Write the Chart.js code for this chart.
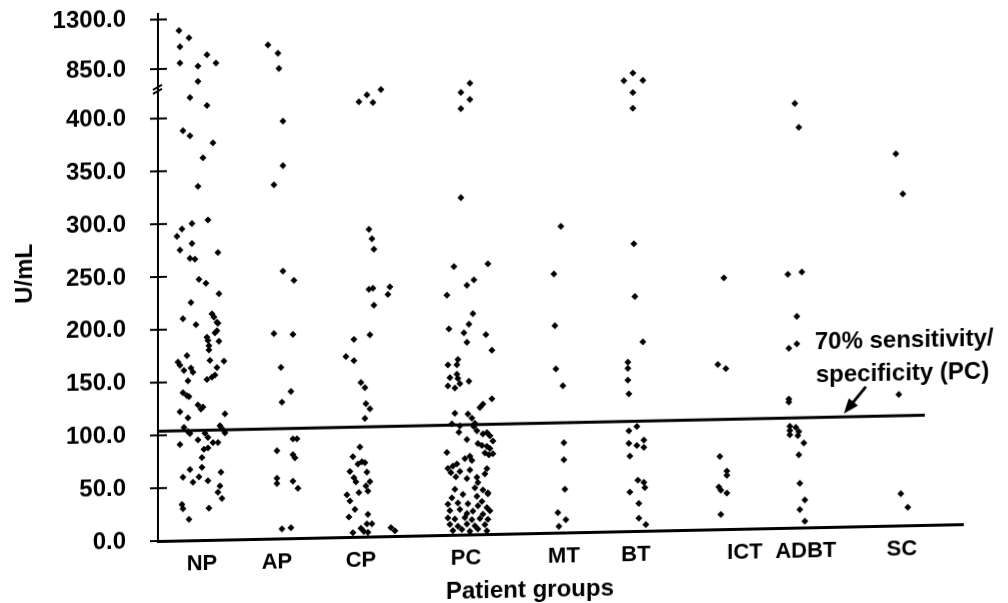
<!DOCTYPE html>
<html><head><meta charset="utf-8">
<script src="https://cdn.jsdelivr.net/npm/chart.js@4/dist/chart.umd.min.js"></script>
<style>
html,body{margin:0;padding:0;background:#fff;}
#wrap{width:1008px;height:603px;position:relative;overflow:hidden;background:#fff;}
canvas{display:block;transform:skewY(-1.2deg);transform-origin:158px 541px;}
</style>
</head><body><div id="wrap"><canvas id="c" width="1008" height="640"></canvas></div>
<script>
const groups = ['NP','AP','CP','PC','MT','BT','ICT','ADBT','SC'];
const groupPos = [44,119,203,308,406,478,587,648,744];
const yTickValues = [0,50,100,150,200,250,300,350,400,850,1300];
const cutoff = 104;
const breakValue = 428;
// each point: [U/mL, horizontal jitter from the group position]
const NP = [[1196,-23],[1127,-13],[1049,-22],[970,5],[901,-22],[869,-4],[893,14],[731,-4],[584,-12],[510,5],[388,-19],[383,-12],[376,11],[362,1],[335,-4],[303,6],[300,-10],[295,-20],[288,-25],[281,-10],[275,-22],[272,16],[267,-12],[266,-7],[247,-3],[243,4],[233,17],[225,-11],[210,-19],[204,-6],[214,10],[211,12],[206,15],[205,16],[198,15],[196,13],[192,5],[189,6],[188,17],[184,7],[180,7],[175,-15],[170,8],[169,-24],[166,-22],[169,22],[163,-11],[161,-18],[159,-9],[163,15],[156,13],[154,10],[152,5],[151,-14],[140,-19],[137,-15],[136,-13],[128,-4],[126,1],[124,-1],[122,-22],[116,-14],[119,23],[107,-18],[108,18],[105,20],[103,-14],[101,-12],[101,3],[101,23],[95,-4],[97,6],[92,11],[92,16],[91,-22],[86,2],[87,6],[78,0],[69,0],[67,-12],[60,-19],[55,-9],[60,-3],[56,6],[64,19],[51,18],[45,16],[39,20],[34,-20],[30,-19],[30,7],[20,-13]];
const AP = [[1048,-9],[971,1],[832,2],[395,6],[353,6],[335,-3],[253,6],[244,17],[194,-3],[193,16],[162,4],[139,14],[129,5],[94,16],[94,20],[83,0],[79,16],[76,18],[57,0],[52,0],[54,16],[47,21],[9,5],[10,14]];
const CP = [[515,-2],[575,6],[505,12],[620,20],[291,8],[282,11],[272,13],[234,8],[235,12],[236,29],[229,27],[219,13],[187,-7],[191,9],[171,-15],[167,-7],[146,0],[141,4],[126,5],[121,9],[112,4],[85,-1],[76,-8],[69,-3],[71,1],[70,4],[61,6],[62,-11],[56,-7],[52,-5],[52,9],[48,5],[42,-2],[40,-14],[43,7],[34,-11],[26,-6],[19,-12],[21,7],[12,6],[12,11],[4,-8],[8,0],[5,3],[4,7],[8,30],[5,34]];
const PC = [[662,4],[580,-5],[515,4],[433,-5],[319,-5],[254,-12],[256,22],[241,8],[236,1],[227,-19],[209,7],[195,-17],[199,3],[191,-2],[189,20],[182,1],[174,26],[166,-8],[161,-18],[161,-9],[149,-16],[152,-9],[148,-8],[145,3],[141,-18],[139,-11],[143,-6],[128,26],[123,17],[120,14],[115,-11],[114,2],[110,6],[105,-14],[103,-6],[105,9],[102,8],[97,-7],[98,11],[95,17],[96,21],[93,24],[90,1],[86,12],[84,16],[83,21],[81,24],[88,27],[77,19],[75,23],[76,27],[78,-19],[72,-1],[74,4],[70,6],[63,-18],[65,-13],[67,-9],[60,-6],[61,4],[62,21],[59,-15],[55,-10],[54,11],[49,12],[53,1],[57,19],[43,-11],[44,9],[42,17],[39,22],[35,-14],[38,-3],[36,11],[31,16],[38,22],[29,-18],[30,-8],[29,2],[27,12],[25,21],[23,-16],[24,-6],[20,1],[22,7],[19,17],[22,24],[16,-18],[15,-11],[16,-1],[14,6],[15,14],[14,22],[10,-16],[8,-8],[10,1],[8,9],[9,19],[4,-13],[5,-4],[3,4],[5,12],[3,21]];
const MT = [[290,-3],[245,-10],[196,-9],[155,-8],[139,-1],[85,0],[69,0],[41,1],[19,-6],[12,2],[6,-5]];
const BT = [[723,-3],[655,-12],[655,7],[547,-3],[402,-3],[272,-2],[222,-1],[179,7],[160,-8],[154,-8],[143,-8],[130,-7],[95,-7],[99,1],[83,-7],[81,1],[86,8],[79,8],[71,-6],[48,2],[46,8],[41,9],[37,-6],[26,3],[12,3],[6,10]];
const ICT = [[238,-21],[156,-27],[152,-19],[69,-25],[55,-18],[51,-18],[40,-26],[37,-24],[34,-18],[14,-24]];
const ADBT = [[417,-11],[379,-7],[240,-18],[242,-4],[200,-9],[170,-17],[174,-9],[122,-17],[119,-17],[96,-16],[92,-16],[88,-16],[95,-10],[91,-7],[87,-8],[80,-2],[69,-7],[42,-6],[26,-1],[17,-6],[6,-1]];
const SC = [[352,-6],[314,1],[124,-3],[30,-1],[17,6]];
const seriesByGroup = [NP,AP,CP,PC,MT,BT,ICT,ADBT,SC];

// broken axis: 0-400 linear, above 400 compressed
function toAxis(v){ return v <= 400 ? v : 400 + (v - 400) / 9.6; }

const FONT = '"Liberation Sans", Arial, sans-serif';

const datasets = seriesByGroup.map((pts, g) => ({
  type: 'scatter',
  label: groups[g],
  data: pts.map(p => ({x: groupPos[g] + p[1], y: toAxis(p[0])})),
  pointStyle: 'rectRot',
  pointRadius: 3.5,
  pointBorderWidth: 0,
  backgroundColor: '#000',
  borderColor: '#000'
}));
datasets.push({
  type: 'line',
  label: 'cutoff',
  data: [{x: 0, y: cutoff}, {x: 767, y: cutoff}],
  borderColor: '#000',
  borderWidth: 3,
  pointRadius: 0,
  fill: false
});

const extras = {
  id: 'extras',
  afterDraw(chart){
    const {ctx, scales:{x, y}} = chart;
    const ax = x.left;
    ctx.save();
    ctx.strokeStyle = '#000';
    ctx.fillStyle = '#000';
    ctx.lineWidth = 2;
    yTickValues.forEach(v => {
      const py = y.getPixelForValue(toAxis(v));
      ctx.beginPath(); ctx.moveTo(ax - 8, py); ctx.lineTo(ax + 9, py); ctx.stroke();
    });
    // axis break marks
    const pb = y.getPixelForValue(breakValue);
    ctx.lineWidth = 2;
    ctx.beginPath(); ctx.moveTo(ax - 5, pb + 1); ctx.lineTo(ax + 4, pb - 4); ctx.stroke();
    ctx.beginPath(); ctx.moveTo(ax - 5, pb + 5); ctx.lineTo(ax + 4, pb); ctx.stroke();
    // arrow
    const tx = x.getPixelForValue(708), ty = y.getPixelForValue(132);
    const hx = x.getPixelForValue(686), hy = y.getPixelForValue(107);
    const ang = Math.atan2(hy - ty, hx - tx);
    ctx.lineWidth = 3;
    ctx.beginPath(); ctx.moveTo(tx, ty); ctx.lineTo(hx - 8 * Math.cos(ang), hy - 8 * Math.sin(ang)); ctx.stroke();
    ctx.beginPath();
    ctx.moveTo(hx, hy);
    ctx.lineTo(hx - 15 * Math.cos(ang) + 6 * Math.sin(ang), hy - 15 * Math.sin(ang) - 6 * Math.cos(ang));
    ctx.lineTo(hx - 15 * Math.cos(ang) - 6 * Math.sin(ang), hy - 15 * Math.sin(ang) + 6 * Math.cos(ang));
    ctx.closePath(); ctx.fill();
    // annotation text
    ctx.font = 'bold 24px ' + FONT;
    ctx.textAlign = 'left'; ctx.textBaseline = 'middle';
    ctx.fillText('70% sensitivity/', x.getPixelForValue(657), y.getPixelForValue(175));
    ctx.fillText('specificity (PC)', x.getPixelForValue(658), y.getPixelForValue(144));
    // axis titles
    ctx.font = 'bold 24px ' + FONT;
    ctx.textAlign = 'center';
    ctx.fillText('Patient groups', 530, 598);
    ctx.save();
    ctx.translate(25, 271);
    ctx.rotate(-Math.PI / 2);
    ctx.font = 'bold 24px ' + FONT;
    ctx.fillText('U/mL', 0, 0);
    ctx.restore();
    ctx.restore();
  }
};

new Chart(document.getElementById('c'), {
  data: { datasets },
  options: {
    responsive: false,
    animation: false,
    events: [],
    layout: { padding: { top: 14, right: 45, left: 0, bottom: 0 } },
    plugins: { legend: { display: false }, tooltip: { enabled: false } },
    scales: {
      x: {
        type: 'linear', min: 0, max: 805,
        grid: { display: false },
        border: { display: true, width: 3, color: '#000' },
        afterBuildTicks: s => { s.ticks = groupPos.map(v => ({value: v})); },
        afterFit: s => { s.height = 99; s.paddingLeft = 0; s.paddingRight = 0; },
        ticks: {
          autoSkip: false, maxRotation: 0, padding: 3, color: '#000',
          font: { family: FONT, weight: 'bold', size: 22 },
          callback: (v, i) => groups[i]
        }
      },
      y: {
        type: 'linear', min: 0, max: 499,
        grid: { display: false },
        border: { display: true, width: 2, color: '#000' },
        afterBuildTicks: s => { s.ticks = yTickValues.map(v => ({value: toAxis(v)})); },
        afterFit: s => { s.width = 158; s.paddingTop = 0; s.paddingBottom = 0; },
        ticks: {
          padding: 24, color: '#000',
          font: { family: FONT, weight: 'bold', size: 24 },
          callback: (v, i) => yTickValues[i].toFixed(1)
        }
      }
    }
  },
  plugins: [extras]
});
</script>
</body></html>
